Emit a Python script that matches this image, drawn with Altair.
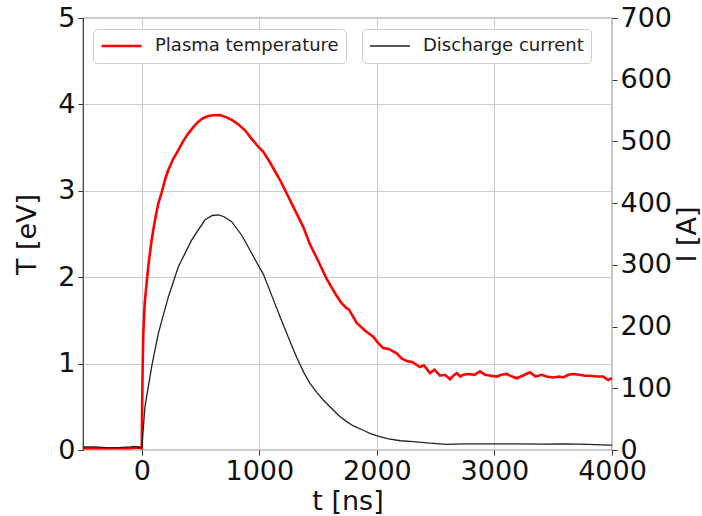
import altair as alt
import pandas as pd

# Plasma temperature (left axis)
t_T = [-500, -400, -300, -200, -100, -30, 0, 3, 8, 13, 25, 41, 60, 84, 112, 141, 169, 200, 226, 268, 311,
       350, 396, 440, 481, 520, 566, 610, 665, 720, 765, 820, 878, 930, 991, 1034, 1090, 1176, 1280, 1374,
       1431, 1500, 1573, 1650, 1700, 1743, 1760, 1790, 1828, 1900, 1969, 2010, 2054, 2100, 2168, 2210,
       2253, 2300, 2366, 2400, 2452, 2490, 2537, 2580, 2622, 2650, 2679, 2710, 2735, 2780, 2830, 2877,
       2920, 2970, 3019, 3060, 3104, 3150, 3189, 3240, 3302, 3350, 3400, 3444, 3500, 3550, 3585, 3630,
       3671, 3720, 3770, 3812, 3870, 3925, 3968, 4000]
T_eV = [0.02, 0.02, 0.02, 0.02, 0.02, 0.03, 0.02, 0.5, 1.0, 1.35, 1.7, 1.93, 2.18, 2.43, 2.66, 2.855,
        2.98, 3.14, 3.24, 3.37, 3.47, 3.57, 3.665, 3.74, 3.80, 3.84, 3.866, 3.875, 3.877, 3.85, 3.82,
        3.77, 3.70, 3.61, 3.51, 3.45, 3.33, 3.125, 2.84, 2.58, 2.38, 2.19, 1.98, 1.80, 1.70, 1.64, 1.63,
        1.56, 1.47, 1.38, 1.31, 1.24, 1.18, 1.17, 1.12, 1.06, 1.03, 1.02, 0.96, 0.98, 0.89, 0.93, 0.86,
        0.87, 0.82, 0.86, 0.89, 0.85, 0.87, 0.88, 0.87, 0.91, 0.87, 0.86, 0.85, 0.87, 0.88, 0.85, 0.83,
        0.86, 0.90, 0.85, 0.87, 0.85, 0.84, 0.85, 0.84, 0.87, 0.88, 0.87, 0.86, 0.86, 0.85, 0.85, 0.81,
        0.83]

# Discharge current (right axis)
t_I = [-500, -400, -300, -200, -100, -50, -20, 0, 27, 84, 141, 226, 311, 424, 538, 600, 651, 700, 765,
       850, 920, 980, 1034, 1100, 1176, 1250, 1318, 1380, 1431, 1490, 1544, 1601, 1680, 1743, 1800, 1884,
       1950, 2026, 2100, 2200, 2310, 2450, 2593, 2750, 2900, 3019, 3200, 3400, 3600, 3800, 3968, 4000]
I_A = [5, 5, 4, 4, 5, 6, 4, 3, 70, 135, 189, 248, 297, 340, 373, 380, 381, 378, 370, 348, 324, 303, 285,
       253, 216, 181, 150, 125, 108, 93, 81, 70, 55, 46, 39, 32, 26, 21.6, 18, 15, 13.5, 11, 9.2, 10, 10,
       10, 10, 9.5, 10, 9, 8, 8]

x_ticks = [0, 1000, 2000, 3000, 4000]
T_ticks = [0, 1, 2, 3, 4, 5]
I_ticks = [0, 100, 200, 300, 400, 500, 600, 700]

dfT = pd.DataFrame({"t": t_T, "val": T_eV, "series": "Plasma temperature"})
dfI = pd.DataFrame({"t": t_I, "val": I_A, "series": "Discharge current"})

FONT = "DejaVu Sans"
FS = 27

xenc = alt.X("t:Q", scale=alt.Scale(domain=[-500, 4000], nice=False, zero=False),
             axis=alt.Axis(title="t [ns]", values=x_ticks, format="d", grid=True, labelFlush=False,
                           titlePadding=4))

lineT = alt.Chart(dfT).mark_line(strokeWidth=2.6).encode(
    x=xenc,
    y=alt.Y("val:Q", scale=alt.Scale(domain=[0, 5], nice=False),
            axis=alt.Axis(title="T [eV]", values=T_ticks, orient="left", grid=True, titlePadding=16)),
    color=alt.Color("series:N", scale=alt.Scale(domain=["Plasma temperature"], range=["#ff0000"]),
                    legend=alt.Legend(title=None, orient="none", legendX=10, legendY=11,
                                      symbolStrokeWidth=2.6)),
)

lineI = alt.Chart(dfI).mark_line(strokeWidth=1.3).encode(
    x=xenc,
    y=alt.Y("val:Q", scale=alt.Scale(domain=[0, 700], nice=False),
            axis=alt.Axis(title="I [A]", values=I_ticks, orient="right", grid=False,
                          titleAngle=270, titleBaseline="top", titlePadding=3)),
    color=alt.Color("series:N", scale=alt.Scale(domain=["Discharge current"], range=["#222222"]),
                    legend=alt.Legend(title=None, orient="none", legendX=279, legendY=11,
                                      symbolStrokeWidth=1.3)),
)

chart = alt.layer(lineT, lineI).resolve_scale(
    y="independent", color="independent"
).resolve_legend(color="independent").properties(
    width=529, height=432,
    autosize=alt.AutoSizeParams(type="none"),
    padding={"left": 83, "top": 18, "right": 90, "bottom": 66},
    background="white",
).configure_view(
    stroke="#333333", strokeWidth=1.2
).configure_axis(
    labelFont=FONT, titleFont=FONT, labelFontSize=FS, titleFontSize=FS,
    labelColor="#111111", titleColor="#111111", titleFontWeight="normal",
    domain=False, tickColor="#333333", tickSize=5, tickWidth=1,
    gridColor="#cccccc", gridWidth=1, labelPadding=3,
).configure_legend(
    labelFont=FONT, labelFontSize=18, labelColor="#222222", labelLimit=0,
    symbolType="stroke", symbolSize=1600, padding=7, rowPadding=0, clipHeight=20,
    fillColor="white", strokeColor="#cccccc", cornerRadius=4, labelOffset=12,
    symbolOffset=0,
)

chart.save("out.html", embed_options={"renderer": "svg", "actions": False})
